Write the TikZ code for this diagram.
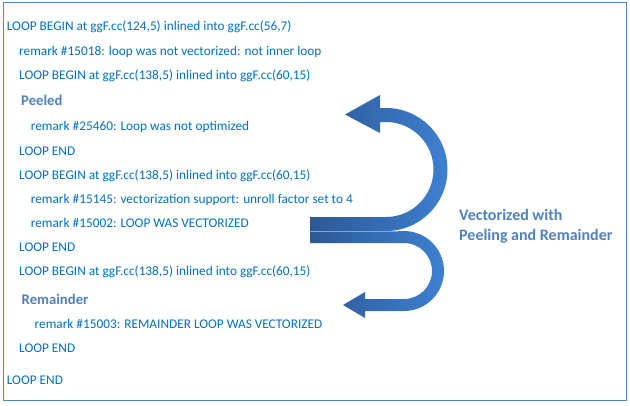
\documentclass[tikz,border=0pt]{standalone}
\usepackage{fontspec}
\setmainfont{Carlito}
\definecolor{txtblue}{HTML}{0070C0}
\definecolor{headblue}{HTML}{4F81BD}
\definecolor{framec}{HTML}{4A86C8}
\definecolor{arrdark}{HTML}{2C5896}
\definecolor{arrlight}{HTML}{3E80D0}
\tikzset{
  txt/.style={anchor=base west, inner sep=0pt, text=txtblue, font=\fontsize{13.3}{16}\selectfont},
  head/.style={anchor=base west, inner sep=0pt, text=headblue, font=\fontsize{14.7}{17}\selectfont\bfseries},
  sidehead/.style={head, font=\fontsize{16}{19}\selectfont\bfseries},
  bigarrow/.style={left color=arrdark, right color=arrlight, draw=none}
}
\begin{document}
\begin{tikzpicture}[x=1pt,y=-1pt]
\useasboundingbox (0,0) rectangle (630,405);
\draw[framec, line width=1.2pt] (3.5,2.5) rectangle (626.5,400.5);

\node[txt] (l1) at (6.7,30.7) {LOOP BEGIN at ggF.cc(124,5) inlined into ggF.cc(56,7)};
\node[txt] (l2) at (19,55) {remark \#15018: loop was not vectorized: not inner loop};
\node[txt] (l3) at (19,79) {LOOP BEGIN at ggF.cc(138,5) inlined into ggF.cc(60,15)};
\node[head] (peeled) at (21,105) {Peeled};
\node[txt] (l4) at (30.7,130) {remark \#25460: Loop was not optimized};
\node[txt] (l5) at (19,155) {LOOP END};
\node[txt] (l6) at (19,179.5) {LOOP BEGIN at ggF.cc(138,5) inlined into ggF.cc(60,15)};
\node[txt] (l7) at (30.7,203.5) {remark \#15145: vectorization support: unroll factor set to 4};
\node[txt] (l8) at (30.7,227.5) {remark \#15002: LOOP WAS VECTORIZED};
\node[txt] (l9) at (19,251.7) {LOOP END};
\node[txt] (l10) at (19,275.5) {LOOP BEGIN at ggF.cc(138,5) inlined into ggF.cc(60,15)};
\node[head] (remainder) at (21.5,304) {Remainder};
\node[txt] (l11) at (34.5,328) {remark \#15003: REMAINDER LOOP WAS VECTORIZED};
\node[txt] (l12) at (19,352.7) {LOOP END};
\node[txt] (l13) at (6.7,384) {LOOP END};

\node[sidehead] (vec1) at (459,220) {Vectorized with};
\node[sidehead] (vec2) at (459,240) {Peeling and Remainder};

% upper arrow
\shade[bigarrow] (310,217) -- (386,217)
  arc[start angle=90, end angle=-90, radius=47.5]
  -- (380,122) -- (380,133) -- (345,114.5) -- (380,95) -- (380,108) -- (386,108)
  arc[start angle=-90, end angle=90, radius=61.5]
  -- (310,231) -- cycle;
% lower arrow
\shade[bigarrow] (310,231) -- (404,231)
  arc[start angle=-90, end angle=90, radius=40]
  -- (365,311) -- (365,318) -- (343,305) -- (365,292) -- (365,299) -- (404,299)
  arc[start angle=90, end angle=-90, radius=28]
  -- (310,243) -- cycle;
\draw[arrlight!70!white, line width=0.6pt] (310,231) -- (398,231);
\end{tikzpicture}
\end{document}
